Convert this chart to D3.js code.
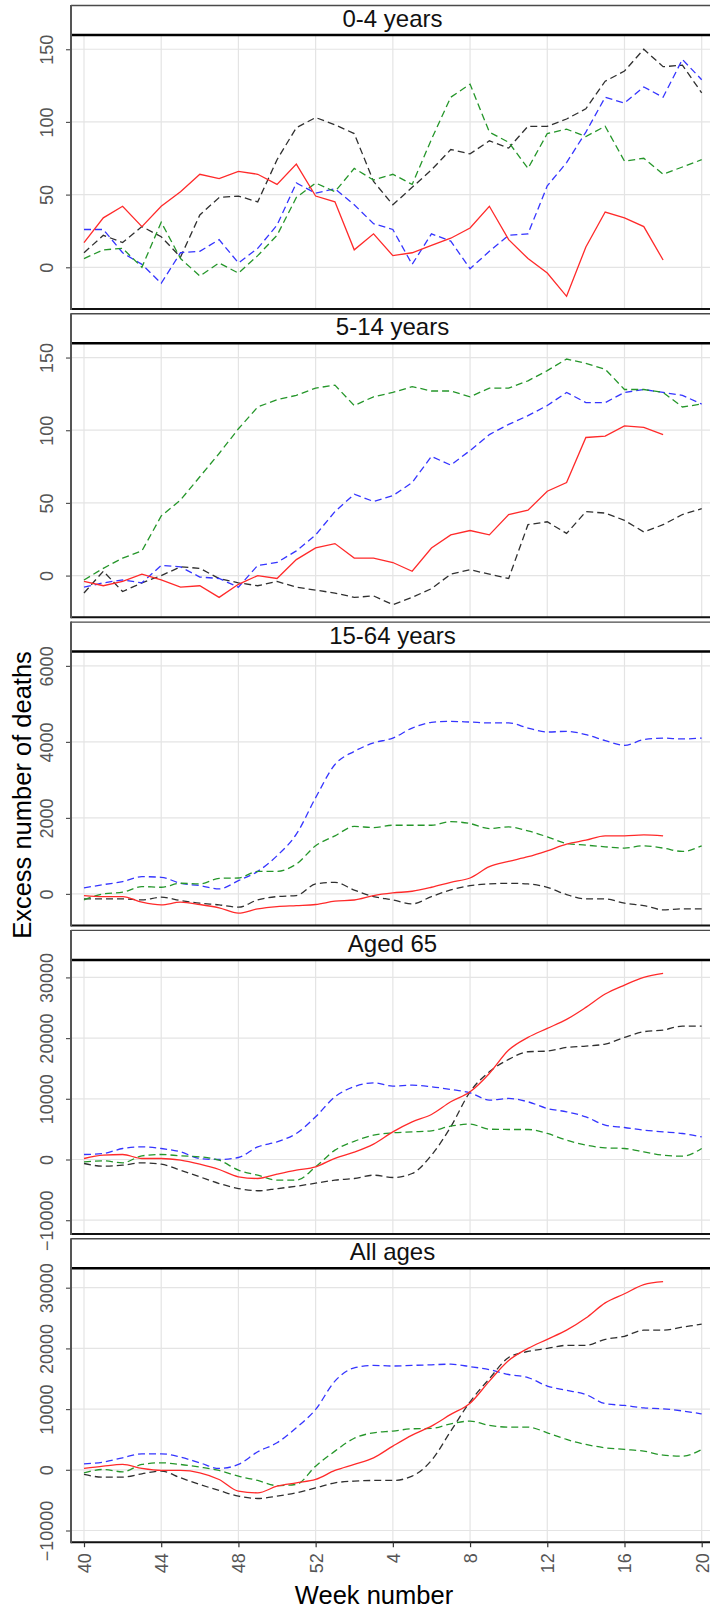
<!DOCTYPE html>
<html>
<head>
<meta charset="utf-8">
<script src="https://cdn.jsdelivr.net/npm/d3@7"></script>
<style>
  body { margin: 0; background: #fff; }
  svg { display: block; font-family: "Liberation Sans", Arial, sans-serif; }
</style>
</head>
<body>
<svg id="chart" width="710" height="1608"></svg>
<script>
// week axis: season runs week 40 .. 52, then 1 .. 20
const weeks = [40,41,42,43,44,45,46,47,48,49,50,51,52,1,2,3,4,5,6,7,8,9,10,11,12,13,14,15,16,17,18,19,20]
const tickWeeks = [40,44,48,52,4,8,12,16,20]

const panelTitles = ["0-4 years", "5-14 years", "15-64 years", "Aged 65", "All ages"]
const yTicks = [
  [0, 50, 100, 150],
  [0, 50, 100, 150],
  [0, 2000, 4000, 6000],
  [-10000, 0, 10000, 20000, 30000],
  [-10000, 0, 10000, 20000, 30000]
]
const yDomains = [[-28.7, 159.8], [-28.7, 159.8], [-834, 6376], [-12257, 32883], [-11927, 33213]]

// 0-4 years
const p1Red = [17,34,42,28,42,52,64,61,66,64,57,71,49,45,12,23,8,10,15,20,27,42,19,6,-4,-20,14,38,34,28,5]
const p1Black = [10,22,17,28,21,7,36,48,49,45,74,96,103,98,92,59,43,55,67,81,78,87,82,97,97,102,109,128,135,150,138,139,120]
const p1Blue = [26,26,10,2,-11,10,11,19,3,13,29,58,51,54,43,30,26,2,23,18,-1,11,22,23,56,72,93,117,113,124,117,143,129]
const p1Green = [6,12,13,0,31,6,-6,3,-4,8,22,48,58,52,68,60,64,57,88,117,126,93,86,68,92,95,90,97,73,75,64,69,74]

// 5-14 years
const p2Red = [-4,-7,-4,1,-3,-8,-7,-15,-6,0,-2,11,19,22,12,12,9,3,19,28,31,28,42,45,58,64,95,96,103,102,97]
const p2Black = [-12,3,-11,-5,0,6,5,-2,-5,-7,-4,-8,-10,-12,-15,-14,-20,-15,-9,1,4,1,-2,35,37,29,44,43,38,30,35,42,46]
const p2Blue = [-8,-5,-3,-5,7,6,-1,-2,-8,7,9,17,28,44,56,51,55,64,82,76,86,97,104,110,117,126,119,119,126,128,126,124,118]
const p2Green = [-3,5,12,17,41,52,68,84,101,116,121,124,129,131,117,123,126,130,127,127,123,129,129,134,141,149,146,142,128,128,126,116,118]

// 15-64 years
const p3Red = [-44,-70,-70,-218,-288,-218,-279,-367,-506,-393,-332,-306,-279,-192,-160,-44,26,70,175,306,419,716,856,978,1135,1310,1414,1528,1528,1554,1528]
const p3Black = [-131,-131,-131,-157,-87,-175,-244,-288,-349,-157,-70,-44,262,306,100,-70,-157,-262,-70,105,218,262,279,262,175,-17,-131,-131,-244,-306,-419,-393,-393]
const p3Blue = [157,244,323,454,437,280,218,131,349,594,1004,1571,2532,3405,3750,3972,4100,4365,4513,4540,4522,4500,4500,4365,4260,4278,4190,4033,3911,4059,4100,4077,4100]
const p3Green = [-157,0,44,192,175,280,262,410,419,594,594,786,1266,1528,1775,1746,1807,1807,1807,1903,1851,1720,1763,1659,1502,1327,1283,1240,1205,1266,1205,1117,1266]

// Aged 65
const p4Red = [165,714,824,165,165,-110,-769,-1648,-2857,-3132,-2418,-1758,-1209,200,1200,2528,4561,6209,7418,9506,11155,14177,18024,20112,21596,23079,25057,27255,28739,30003,30662]
const p4Black = [-659,-1099,-934,-549,-769,-1758,-2857,-3956,-4780,-5150,-4800,-4400,-3900,-3400,-3132,-2583,-2967,-2308,714,5385,11155,14452,16485,17749,17859,18463,18683,19013,20112,21046,21321,21980,21980]
const p4Blue = [824,989,1813,2088,1813,1264,165,0,330,2088,2912,4286,7034,10331,12000,12639,12089,12254,11979,11540,10990,9781,10056,9506,8407,7858,7034,5660,5275,4836,4561,4286,3737]
const p4Green = [-385,-220,-549,604,824,604,440,-110,-1758,-2583,-3407,-3407,-1209,1539,3000,4011,4396,4561,4726,5495,5825,5000,4946,4946,4286,3187,2363,1923,1813,1264,714,549,1813]

// All ages
const p5Red = [220,604,879,220,-110,-110,-494,-1594,-3517,-3792,-2693,-2143,-1594,-110,900,1978,3902,5715,7198,9122,10970,14617,18000,20000,21500,23000,25000,27500,29000,30500,31000]
const p5Black = [-769,-1209,-1209,-659,-220,-1319,-2418,-3407,-4341,-4726,-4341,-3792,-2967,-2143,-1868,-1758,-1758,-1044,1539,6374,11210,15000,18500,19500,20000,20500,20500,21500,22000,23000,23000,23500,24000]
const p5Blue = [989,1264,1978,2638,2638,2088,1154,220,879,2967,4451,6924,9946,14617,16800,17200,17100,17200,17300,17400,17000,16500,15700,15200,13800,13100,12400,10900,10600,10200,10050,9700,9200]
const p5Green = [-494,55,-330,879,1154,879,440,-110,-1044,-1758,-2600,-2400,604,3077,5200,6099,6374,6759,6814,7583,8023,7308,7034,7034,6099,5000,4176,3627,3352,3077,2418,2253,3352]

const panelSeries = [
  [p1Black, p1Blue, p1Green, p1Red],
  [p2Black, p2Blue, p2Green, p2Red],
  [p3Black, p3Blue, p3Green, p3Red],
  [p4Black, p4Blue, p4Green, p4Red],
  [p5Black, p5Blue, p5Green, p5Red]
]
const seriesStyle = [
  { color: "#303030", dash: "7,4" },
  { color: "#3535ff", dash: "7,4" },
  { color: "#25962a", dash: "7,4" },
  { color: "#ff2a2a", dash: null }
]

const svg = d3.select("#chart")
const X0 = 71, X1 = 714
const PANEL_STEP = 308.3, STRIP_H = 30, PANEL_H = 304

const x = d3.scaleLinear().domain([0, weeks.length - 1]).range([84, 701.7])
const tickIdx = tickWeeks.map((w) => weeks.indexOf(w))

panelTitles.forEach((title, p) => {
  const top = 5 + p * PANEL_STEP
  const plotTop = top + STRIP_H
  const bottom = top + PANEL_H
  const y = d3.scaleLinear().domain(yDomains[p]).range([bottom, plotTop])
  const g = svg.append("g")

  // grid
  g.append("g").selectAll("line").data(tickIdx).enter().append("line")
    .attr("x1", (d) => x(d)).attr("x2", (d) => x(d))
    .attr("y1", plotTop).attr("y2", bottom)
    .attr("stroke", "#e4e4e4").attr("stroke-width", 1.2)
  g.append("g").selectAll("line").data(yTicks[p]).enter().append("line")
    .attr("x1", X0).attr("x2", X1)
    .attr("y1", (d) => y(d)).attr("y2", (d) => y(d))
    .attr("stroke", "#e4e4e4").attr("stroke-width", 1.2)

  // series
  const curve = p >= 2 ? d3.curveMonotoneX : d3.curveLinear
  const line = d3.line().x((d, i) => x(i)).y((d) => y(d)).curve(curve)
  panelSeries[p].forEach((vals, s) => {
    g.append("path").datum(vals)
      .attr("d", line)
      .attr("fill", "none")
      .attr("stroke", seriesStyle[s].color)
      .attr("stroke-width", 1.3)
      .attr("stroke-dasharray", seriesStyle[s].dash)
  })

  // frame + strip
  g.append("rect").attr("x", X0).attr("y", top).attr("width", X1 - X0).attr("height", STRIP_H)
    .attr("fill", "#fff")
  g.append("line").attr("x1", X0).attr("x2", X1).attr("y1", top + 0.5).attr("y2", top + 0.5)
    .attr("stroke", "#4a4a4a").attr("stroke-width", 1.4)
  g.append("line").attr("x1", X0).attr("x2", X1).attr("y1", plotTop).attr("y2", plotTop)
    .attr("stroke", "#000").attr("stroke-width", 2.5)
  g.append("line").attr("x1", X0).attr("x2", X1).attr("y1", bottom).attr("y2", bottom)
    .attr("stroke", "#111").attr("stroke-width", 2)
  g.append("line").attr("x1", X0).attr("x2", X0).attr("y1", top).attr("y2", bottom + 1)
    .attr("stroke", "#555").attr("stroke-width", 2)
  g.append("text").attr("x", (X0 + X1) / 2).attr("y", top + 22)
    .attr("text-anchor", "middle").attr("font-size", 24).attr("fill", "#111").text(title)

  // y axis
  const yAxis = g.append("g").attr("transform", `translate(${X0},0)`)
    .call(d3.axisLeft(y).tickValues(yTicks[p]).tickSize(5).tickFormat(d3.format("d")))
  yAxis.select(".domain").remove()
  yAxis.selectAll(".tick line").attr("stroke", "#555").attr("stroke-width", 1.2)
  yAxis.selectAll(".tick text")
    .attr("font-family", "Liberation Sans, Arial, sans-serif").attr("font-size", 18).attr("fill", "#555")
    .attr("x", null).attr("dy", null)
    .attr("text-anchor", "middle")
    .attr("transform", "translate(-18,0) rotate(-90)")
})

// x axis on the bottom panel
const lastBottom = 5 + 4 * PANEL_STEP + PANEL_H
const xAxis = svg.append("g").attr("transform", `translate(0,${lastBottom})`)
  .call(d3.axisBottom(x).tickValues(tickIdx).tickSize(5).tickFormat((i) => weeks[i]))
xAxis.select(".domain").remove()
xAxis.selectAll(".tick line").attr("stroke", "#333").attr("stroke-width", 1.2)
xAxis.selectAll(".tick text")
  .attr("font-family", "Liberation Sans, Arial, sans-serif").attr("font-size", 18).attr("fill", "#555")
  .attr("y", null).attr("dy", null)
  .attr("text-anchor", "end")
  .attr("transform", "translate(6.5,11) rotate(-90)")

// axis titles
svg.append("text").attr("transform", "translate(31,795) rotate(-90)")
  .attr("text-anchor", "middle").attr("font-size", 25.5).attr("fill", "#000")
  .text("Excess number of deaths")
svg.append("text").attr("x", 374).attr("y", 1604)
  .attr("text-anchor", "middle").attr("font-size", 25.5).attr("fill", "#000")
  .text("Week number")
</script>
</body>
</html>
